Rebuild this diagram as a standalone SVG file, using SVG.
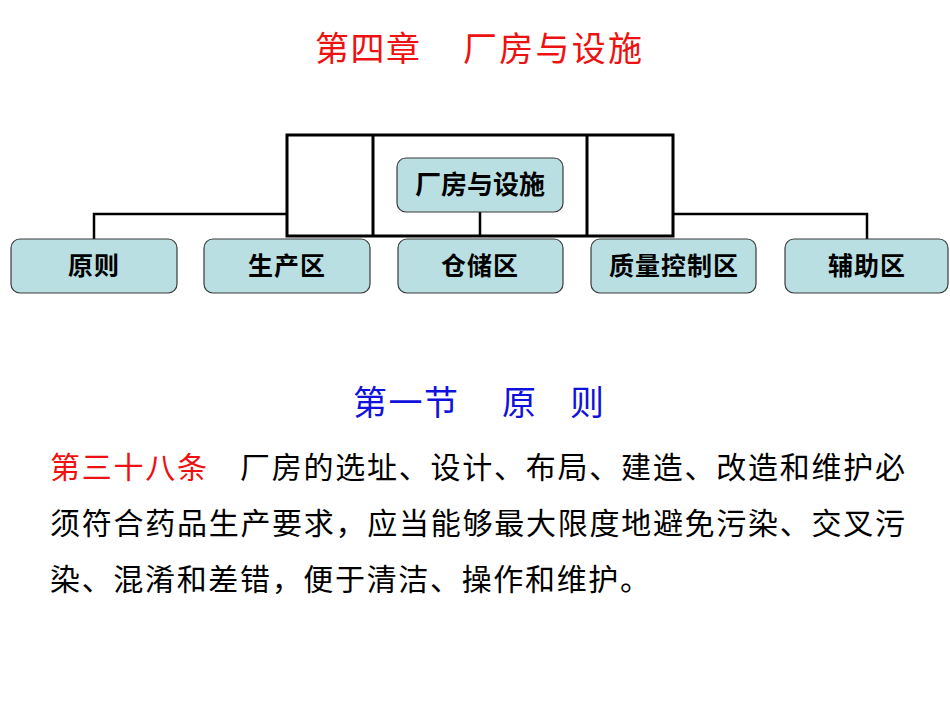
<svg xmlns="http://www.w3.org/2000/svg" width="950" height="713" viewBox="0 0 950 713">
<style>
.node rect{fill:#badfe3;stroke:#3a3a3a;stroke-width:1.2}
.node text{font-family:"Noto Sans CJK SC","Noto Sans",sans-serif;font-weight:bold;fill:#000;text-anchor:middle}
.frame{fill:none;stroke:#000;stroke-width:3}
.conn{fill:none;stroke:#000;stroke-width:2.5}
.t{font-family:"Noto Sans CJK SC","Noto Sans",sans-serif}
.body{font-size:30px;fill:#000}
</style>
<rect width="950" height="713" fill="#fff"/>
<g id="title">
<text class="t" x="315" y="61" font-size="34" fill="#ee1111" textLength="105" lengthAdjust="spacing">第四章</text>
<text class="t" x="463" y="61" font-size="34" fill="#ee1111" textLength="179" lengthAdjust="spacing">厂房与设施</text>
</g>
<g id="connectors">
<path class="frame" d="M287 135H673V236H287Z M373 135V236 M587 135V236"/>
<path class="conn" d="M287 214H94V240 M673 214H867V240 M480 211V236"/>
</g>
<g id="n-top" class="node"><rect x="397" y="158" width="166" height="54" rx="9"/><text x="480" y="194" font-size="26">厂房与设施</text></g>
<g id="n1" class="node"><rect x="11" y="239" width="166" height="54" rx="9"/><text x="94" y="275" font-size="25" letter-spacing="1">原则</text></g>
<g id="n2" class="node"><rect x="204" y="239" width="166" height="54" rx="9"/><text x="287" y="275" font-size="25" letter-spacing="1">生产区</text></g>
<g id="n3" class="node"><rect x="398" y="239" width="165" height="54" rx="9"/><text x="480" y="275" font-size="25" letter-spacing="1">仓储区</text></g>
<g id="n4" class="node"><rect x="591" y="239" width="165" height="54" rx="9"/><text x="674" y="275" font-size="25" letter-spacing="1">质量控制区</text></g>
<g id="n5" class="node"><rect x="785" y="239" width="163" height="54" rx="9"/><text x="867" y="275" font-size="25" letter-spacing="1">辅助区</text></g>
<g id="section">
<text class="t" x="353" y="415" font-size="34" fill="#1111dd" textLength="105" lengthAdjust="spacing">第一节</text>
<text class="t" x="502" y="415" font-size="34" fill="#1111dd">原</text>
<text class="t" x="570" y="415" font-size="34" fill="#1111dd">则</text>
</g>
<g id="article">
<text class="t body" x="50" y="478" style="fill:#ee1111" textLength="157" lengthAdjust="spacing">第三十八条</text>
<text class="t body" x="240" y="478" textLength="665" lengthAdjust="spacing">厂房的选址、设计、布局、建造、改造和维护必</text>
<text class="t body" x="50" y="534" textLength="855" lengthAdjust="spacing">须符合药品生产要求，应当能够最大限度地避免污染、交叉污</text>
<text class="t body" x="50" y="590" textLength="600" lengthAdjust="spacing">染、混淆和差错，便于清洁、操作和维护。</text>
</g>
</svg>
